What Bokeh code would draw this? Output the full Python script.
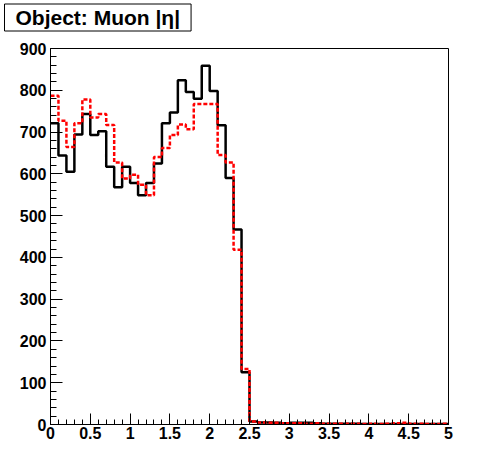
from bokeh.plotting import figure
from bokeh.models import FixedTicker, Range1d, Title
from bokeh.embed import file_html
from bokeh.resources import INLINE

# ---- data (50 bins of width 0.1 in |eta|, 0..5) ----
bin_low = 0.0
bin_width = 0.1
muon_black = [721, 644, 605, 694, 743, 693, 702, 617, 568, 617,
              578, 549, 578, 625, 721, 747, 824, 796, 780, 859,
              798, 716, 590, 467, 125, 7, 5, 5, 4, 3,
              4, 4, 4, 3, 2, 2, 2, 2, 2, 1,
              1, 1, 1, 1, 1, 1, 1, 1, 1, 1]
muon_red = [787, 727, 664, 721, 778, 735, 743, 717, 627, 589,
            598, 574, 549, 640, 662, 693, 718, 707, 767, 767,
            767, 645, 627, 418, 133, 7, 5, 4, 4, 3,
            3, 3, 2, 3, 2, 2, 2, 2, 2, 1,
            2, 1, 2, 3, 4, 2, 2, 1, 1, 2]
title_text = "Object: Muon |η|"
xticks = [0, 0.5, 1, 1.5, 2, 2.5, 3, 3.5, 4, 4.5, 5]
xtick_labels = ["0", "0.5", "1", "1.5", "2", "2.5", "3", "3.5", "4", "4.5", "5"]
yticks = [0, 100, 200, 300, 400, 500, 600, 700, 800, 900]

n = len(muon_black)
edges = [bin_low + i * bin_width for i in range(n + 1)]

p = figure(width=488, height=464, output_backend="svg", toolbar_location=None,
           x_range=Range1d(0, 5), y_range=Range1d(0, 900),
           min_border_left=50, min_border_right=40,
           min_border_top=48, min_border_bottom=40, title=title_text)
p.background_fill_color = "white"
p.border_fill_color = "white"
p.outline_line_color = "black"
p.outline_line_width = 1
p.xgrid.visible = False
p.ygrid.visible = False

# invisible spacer between the title box and the frame
spacer = Title(text=" ", text_font_size="1px", standoff=10, padding=0)
p.add_layout(spacer, "above")

p.title.align = "left"
p.title.vertical_align = "top"
p.title.offset = -46
p.title.standoff = 5
p.title.text_font = "Liberation Sans"
p.title.text_font_style = "bold"
p.title.text_font_size = "21px"
p.title.text_color = "black"
p.title.border_line_color = "black"
p.title.border_line_width = 1
p.title.background_fill_color = "white"
p.title.padding = (11, 2)

p.step(edges, muon_black + [muon_black[-1]], mode="after",
       line_color="black", line_width=2.5)
p.step(edges, muon_red + [muon_red[-1]], mode="after",
       line_color="red", line_width=2.5, line_dash="4 2")

minor_x = [round(i * 0.1, 1) for i in range(51)]
p.xaxis.ticker = FixedTicker(ticks=xticks, minor_ticks=minor_x)
p.xaxis.major_label_overrides = {t: l for t, l in zip(xticks, xtick_labels)}
minor_y = [i * 20 for i in range(46)]
p.yaxis.ticker = FixedTicker(ticks=yticks, minor_ticks=minor_y)

for ax in (p.xaxis, p.yaxis):
    ax.axis_line_color = "black"
    ax.axis_line_width = 1
    ax.major_tick_line_color = "black"
    ax.minor_tick_line_color = "black"
    ax.major_tick_out = 0
    ax.minor_tick_out = 0
    ax.major_label_text_font = "Liberation Sans"
    ax.major_label_text_font_style = "bold"
    ax.major_label_text_font_size = "16px"
    ax.major_label_text_color = "black"

p.xaxis.major_tick_in = 11
p.xaxis.minor_tick_in = 5
p.yaxis.major_tick_in = 12
p.yaxis.minor_tick_in = 6
p.xaxis.major_label_standoff = 2
p.yaxis.major_label_standoff = 4

open("out.html", "w").write(file_html(p, INLINE))
